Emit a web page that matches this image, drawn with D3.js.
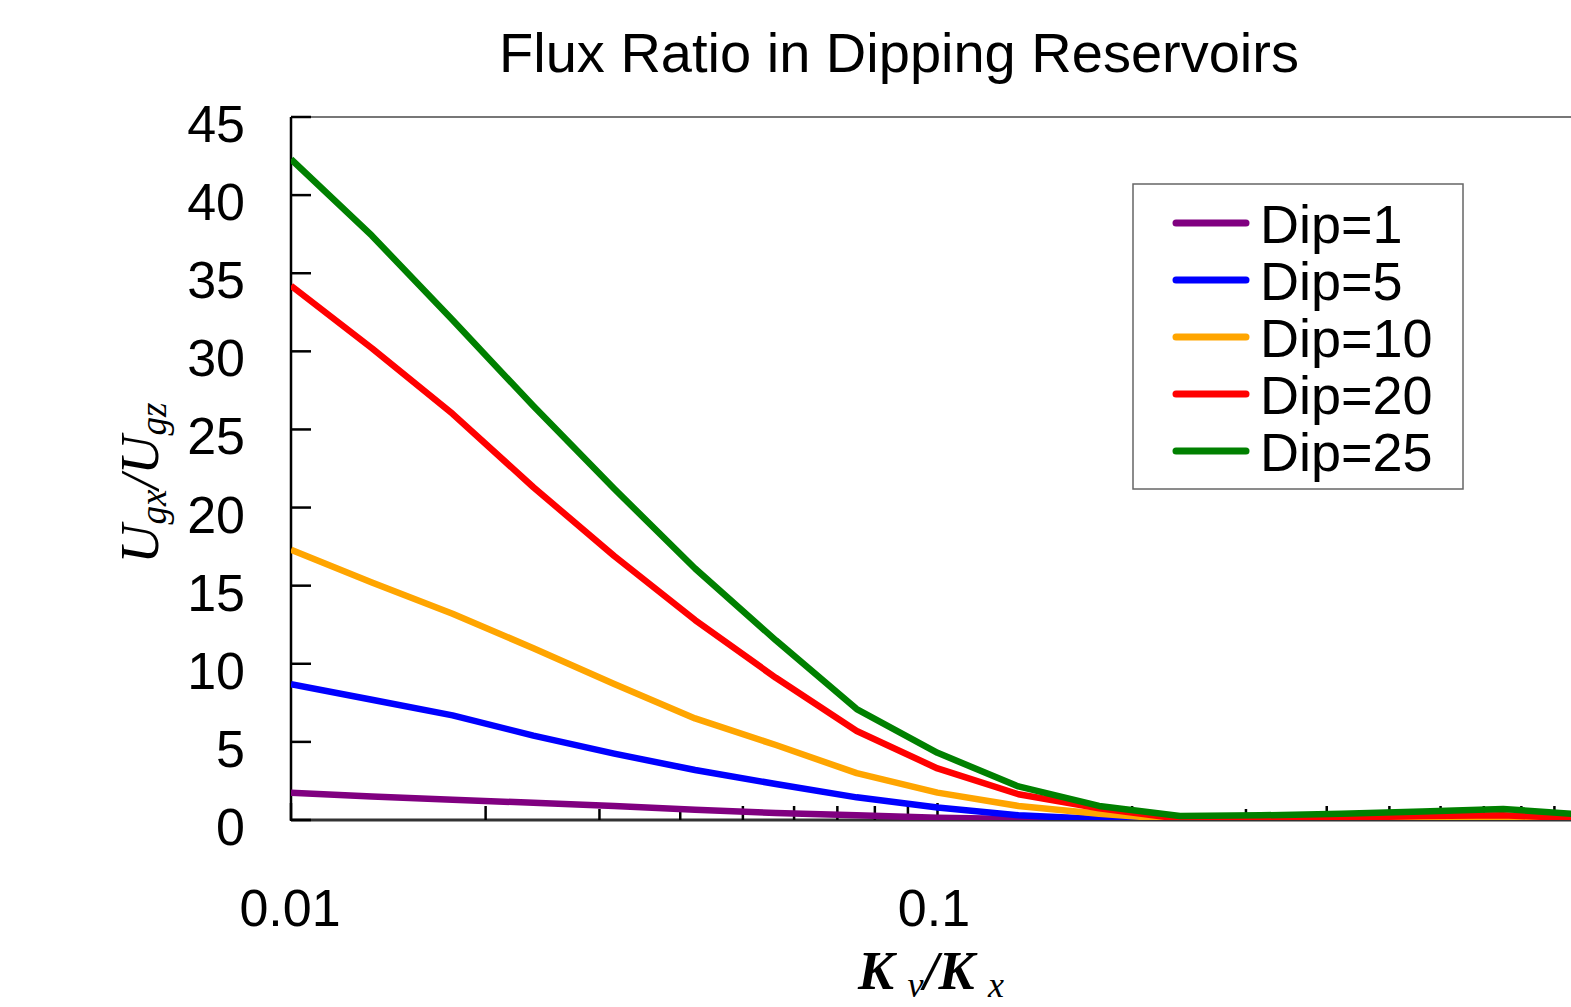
<!DOCTYPE html>
<html lang="en">
<head>
  <meta charset="UTF-8">
  <title>Flux Ratio in Dipping Reservoirs</title>
  <script src="https://d3js.org/d3.v7.min.js"></script>
  <style>
    body { margin: 0; background: #fff; overflow: hidden; }
    svg { display: block; }
    .tick-label { font-family: "Liberation Sans", Arial, sans-serif; font-size: 52px; fill: #000; }
  </style>
</head>
<body>
  <svg id="chart" width="1571" height="1007"></svg>
  <script>
    // Kv/Kx sample points (8 per decade)
    const kRatio = [0.01, 0.01334, 0.01778, 0.02371, 0.03162, 0.04217, 0.05623, 0.07499,
                    0.1, 0.1334, 0.1778, 0.2371, 0.3162, 0.4217, 0.5623, 0.7499, 1.0];
    const dip1  = [1.75, 1.5, 1.3, 1.1, 0.9, 0.65, 0.45, 0.3, 0.15, 0.07, 0.03, 0.01, 0.01, 0.01, 0.02, 0.02, 0.01];
    const dip5  = [8.7, 7.7, 6.7, 5.4, 4.25, 3.2, 2.3, 1.45, 0.8, 0.3, 0.06, 0.0, 0.01, 0.02, 0.03, 0.04, 0.02];
    const dip10 = [17.3, 15.2, 13.2, 11.0, 8.7, 6.5, 4.8, 3.0, 1.75, 0.9, 0.4, 0.02, 0.03, 0.06, 0.12, 0.15, 0.05];
    const dip20 = [34.2, 30.2, 26.0, 21.3, 16.9, 12.8, 9.1, 5.7, 3.3, 1.65, 0.75, 0.08, 0.1, 0.15, 0.25, 0.3, 0.1];
    const dip25 = [42.3, 37.4, 32.0, 26.5, 21.2, 16.1, 11.5, 7.1, 4.3, 2.15, 0.9, 0.25, 0.3, 0.4, 0.55, 0.7, 0.35];

    const seriesNames = ['Dip=1', 'Dip=5', 'Dip=10', 'Dip=20', 'Dip=25'];
    const seriesColors = ['#800080', '#0000ff', '#ffa500', '#ff0000', '#008000'];
    const seriesValues = [dip1, dip5, dip10, dip20, dip25];

    const yTicks = [0, 5, 10, 15, 20, 25, 30, 35, 40, 45];
    const xMajor = [0.01, 0.1];
    const xMinor = [0.02, 0.03, 0.04, 0.05, 0.06, 0.07, 0.08, 0.09,
                    0.2, 0.3, 0.4, 0.5, 0.6, 0.7, 0.8, 0.9];

    const svg = d3.select('#chart');
    const plotL = 291, plotR = 1584, plotT = 117, plotB = 820;

    const x = d3.scaleLog().domain([0.01, 1]).range([plotL, plotR]);
    const y = d3.scaleLinear().domain([0, 45]).range([plotB, plotT]);

    // title
    svg.append('text')
      .attr('x', 899).attr('y', 72)
      .attr('text-anchor', 'middle')
      .style('font-family', '"Liberation Sans", Arial, sans-serif')
      .style('font-size', '56px')
      .text('Flux Ratio in Dipping Reservoirs');

    // frame: top and bottom (gray), left axis black
    svg.append('line').attr('x1', plotL).attr('x2', 1571).attr('y1', plotT).attr('y2', plotT)
      .attr('stroke', '#777').attr('stroke-width', 2);
    svg.append('line').attr('x1', plotL).attr('x2', 1571).attr('y1', plotB).attr('y2', plotB)
      .attr('stroke', '#333').attr('stroke-width', 3);
    svg.append('line').attr('x1', plotL).attr('x2', plotL).attr('y1', plotT).attr('y2', plotB + 1)
      .attr('stroke', '#000').attr('stroke-width', 2.5);

    // y ticks pointing inward
    svg.append('g').selectAll('line').data(yTicks).join('line')
      .attr('x1', plotL).attr('x2', plotL + 20)
      .attr('y1', d => y(d)).attr('y2', d => y(d))
      .attr('stroke', '#000').attr('stroke-width', 2.5);
    svg.append('g').selectAll('text').data(yTicks).join('text')
      .attr('class', 'tick-label')
      .attr('x', 245).attr('y', d => y(d) + 25)
      .attr('text-anchor', 'end')
      .text(d => d);

    // x ticks pointing up
    svg.append('g').selectAll('line').data(xMinor).join('line')
      .attr('x1', d => x(d)).attr('x2', d => x(d))
      .attr('y1', plotB).attr('y2', d => plotB - ((d === 0.3 || d === 0.03) ? 11 : 14))
      .attr('stroke', '#000').attr('stroke-width', 2.5);
    svg.append('g').selectAll('line').data(xMajor).join('line')
      .attr('x1', d => x(d)).attr('x2', d => x(d))
      .attr('y1', plotB).attr('y2', plotB - 17)
      .attr('stroke', '#000').attr('stroke-width', 2.5);
    svg.append('g').selectAll('text').data(xMajor).join('text')
      .attr('class', 'tick-label')
      .attr('x', d => d === 0.1 ? 934 : 290).attr('y', 926)
      .attr('text-anchor', 'middle')
      .text(d => d);

    // lines
    const line = d3.line()
      .x((d, i) => x(kRatio[i]))
      .y(d => y(d));
    svg.append('defs').append('clipPath').attr('id', 'plot-clip')
      .append('rect').attr('x', plotL).attr('y', plotT).attr('width', plotR - plotL).attr('height', plotB - plotT);
    svg.append('g').attr('clip-path', 'url(#plot-clip)')
      .selectAll('path').data(seriesValues).join('path')
      .attr('d', d => line(d))
      .attr('fill', 'none')
      .attr('stroke', (d, i) => seriesColors[i])
      .attr('stroke-width', 6.5)
      .attr('stroke-linejoin', 'round');

    // y label: U_gx / U_gz
    const yl = svg.append('text')
      .attr('transform', 'translate(158,483) rotate(-90)')
      .attr('text-anchor', 'middle')
      .style('font-family', '"Liberation Serif", "Times New Roman", serif')
      .style('font-style', 'italic')
      .style('font-size', '54px');
    yl.append('tspan').text('U');
    yl.append('tspan').attr('dy', 8).style('font-size', '37px').text('gx');
    yl.append('tspan').attr('dy', -8).text('/U');
    yl.append('tspan').attr('dy', 8).style('font-size', '37px').text('gz');

    // x label: K_v / K_x
    const xl = svg.append('text')
      .attr('x', 931).attr('y', 989)
      .attr('text-anchor', 'middle')
      .style('font-family', '"Liberation Serif", "Times New Roman", serif')
      .style('font-style', 'italic')
      .style('font-weight', 'bold')
      .style('font-size', '54px');
    xl.append('tspan').text('K ');
    xl.append('tspan').attr('dy', 8).style('font-size', '36px').style('font-weight', 'normal').text('v');
    xl.append('tspan').attr('dy', -8).text('/K ');
    xl.append('tspan').attr('dy', 8).style('font-size', '36px').style('font-weight', 'normal').text('x');

    // legend
    const legend = svg.append('g');
    legend.append('rect')
      .attr('x', 1133).attr('y', 184).attr('width', 330).attr('height', 305)
      .attr('fill', '#fff').attr('stroke', '#666').attr('stroke-width', 1.5);
    const rows = legend.selectAll('g').data(seriesNames).join('g')
      .attr('transform', (d, i) => `translate(0,${223 + i * 57})`);
    rows.append('line')
      .attr('x1', 1176).attr('x2', 1246)
      .attr('stroke', (d, i) => seriesColors[i])
      .attr('stroke-width', 7)
      .attr('stroke-linecap', 'round');
    rows.append('text')
      .attr('x', 1260).attr('y', 20)
      .style('font-family', '"Liberation Sans", Arial, sans-serif')
      .style('font-size', '54px')
      .text(d => d);
  </script>
</body>
</html>
